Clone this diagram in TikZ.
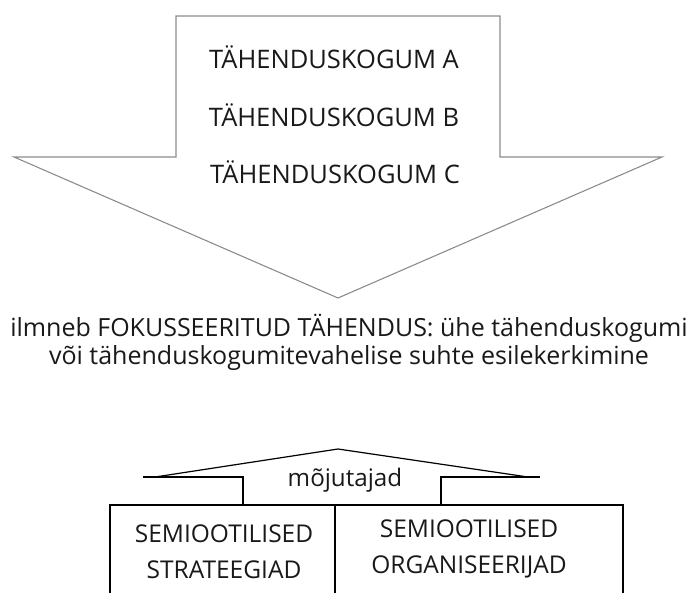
\documentclass[tikz,border=0pt]{standalone}
\usepackage{fontspec}
\setmainfont{Open Sans}
\begin{document}
\begin{tikzpicture}[x=1pt,y=-1pt,
  bigline/.style={draw=black!45, line width=1.1pt, line join=miter},
  smallline/.style={draw=black, line width=1.2pt},
  txt/.style={inner sep=0pt, text=black!90, font=\fontsize{24.2}{28}\selectfont},
  linetxt/.style={txt, font=\fontsize{25}{29}\selectfont},
  captxt/.style={txt, font=\fontsize{25.5}{30}\selectfont},
  celltxt/.style={txt, align=center, font=\fontsize{24.5}{36}\selectfont}]
\useasboundingbox (0,0) rectangle (698,593);
% big down arrow
\draw[bigline] (176,16) -- (500,16) -- (500,157) -- (662,157) -- (338,298)
  -- (14,157) -- (176,157) -- cycle;
\node[captxt] (ta) at (334,57) {TÄHENDUSKOGUM A};
\node[captxt] (tb) at (334,115) {TÄHENDUSKOGUM B};
\node[captxt] (tc) at (335,172) {TÄHENDUSKOGUM C};
% middle text
\node[linetxt] (l1) at (349,328) {ilmneb FOKUSSEERITUD TÄHENDUS: ühe tähenduskogumi};
\node[linetxt] (l2) at (349,358) {või tähenduskogumitevahelise suhte esilekerkimine};
% small up arrow
\draw[smallline] (155,477) -- (338,449) -- (528,477);
\draw[smallline] (143,477) -- (243,477) -- (243,505);
\draw[smallline] (540,477) -- (441,477) -- (441,505);
\node[txt] (mj) at (345,480) {mõjutajad};
% boxes (open at bottom)
\draw[smallline] (110,593) -- (110,505) -- (623,505) -- (623,593);
\draw[smallline] (335,505) -- (335,593);
\node[celltxt] (s1) at (224,552) {SEMIOOTILISED\\STRATEEGIAD};
\node[celltxt] (s2) at (469,549) {SEMIOOTILISED\\ORGANISEERIJAD};
\end{tikzpicture}
\end{document}
